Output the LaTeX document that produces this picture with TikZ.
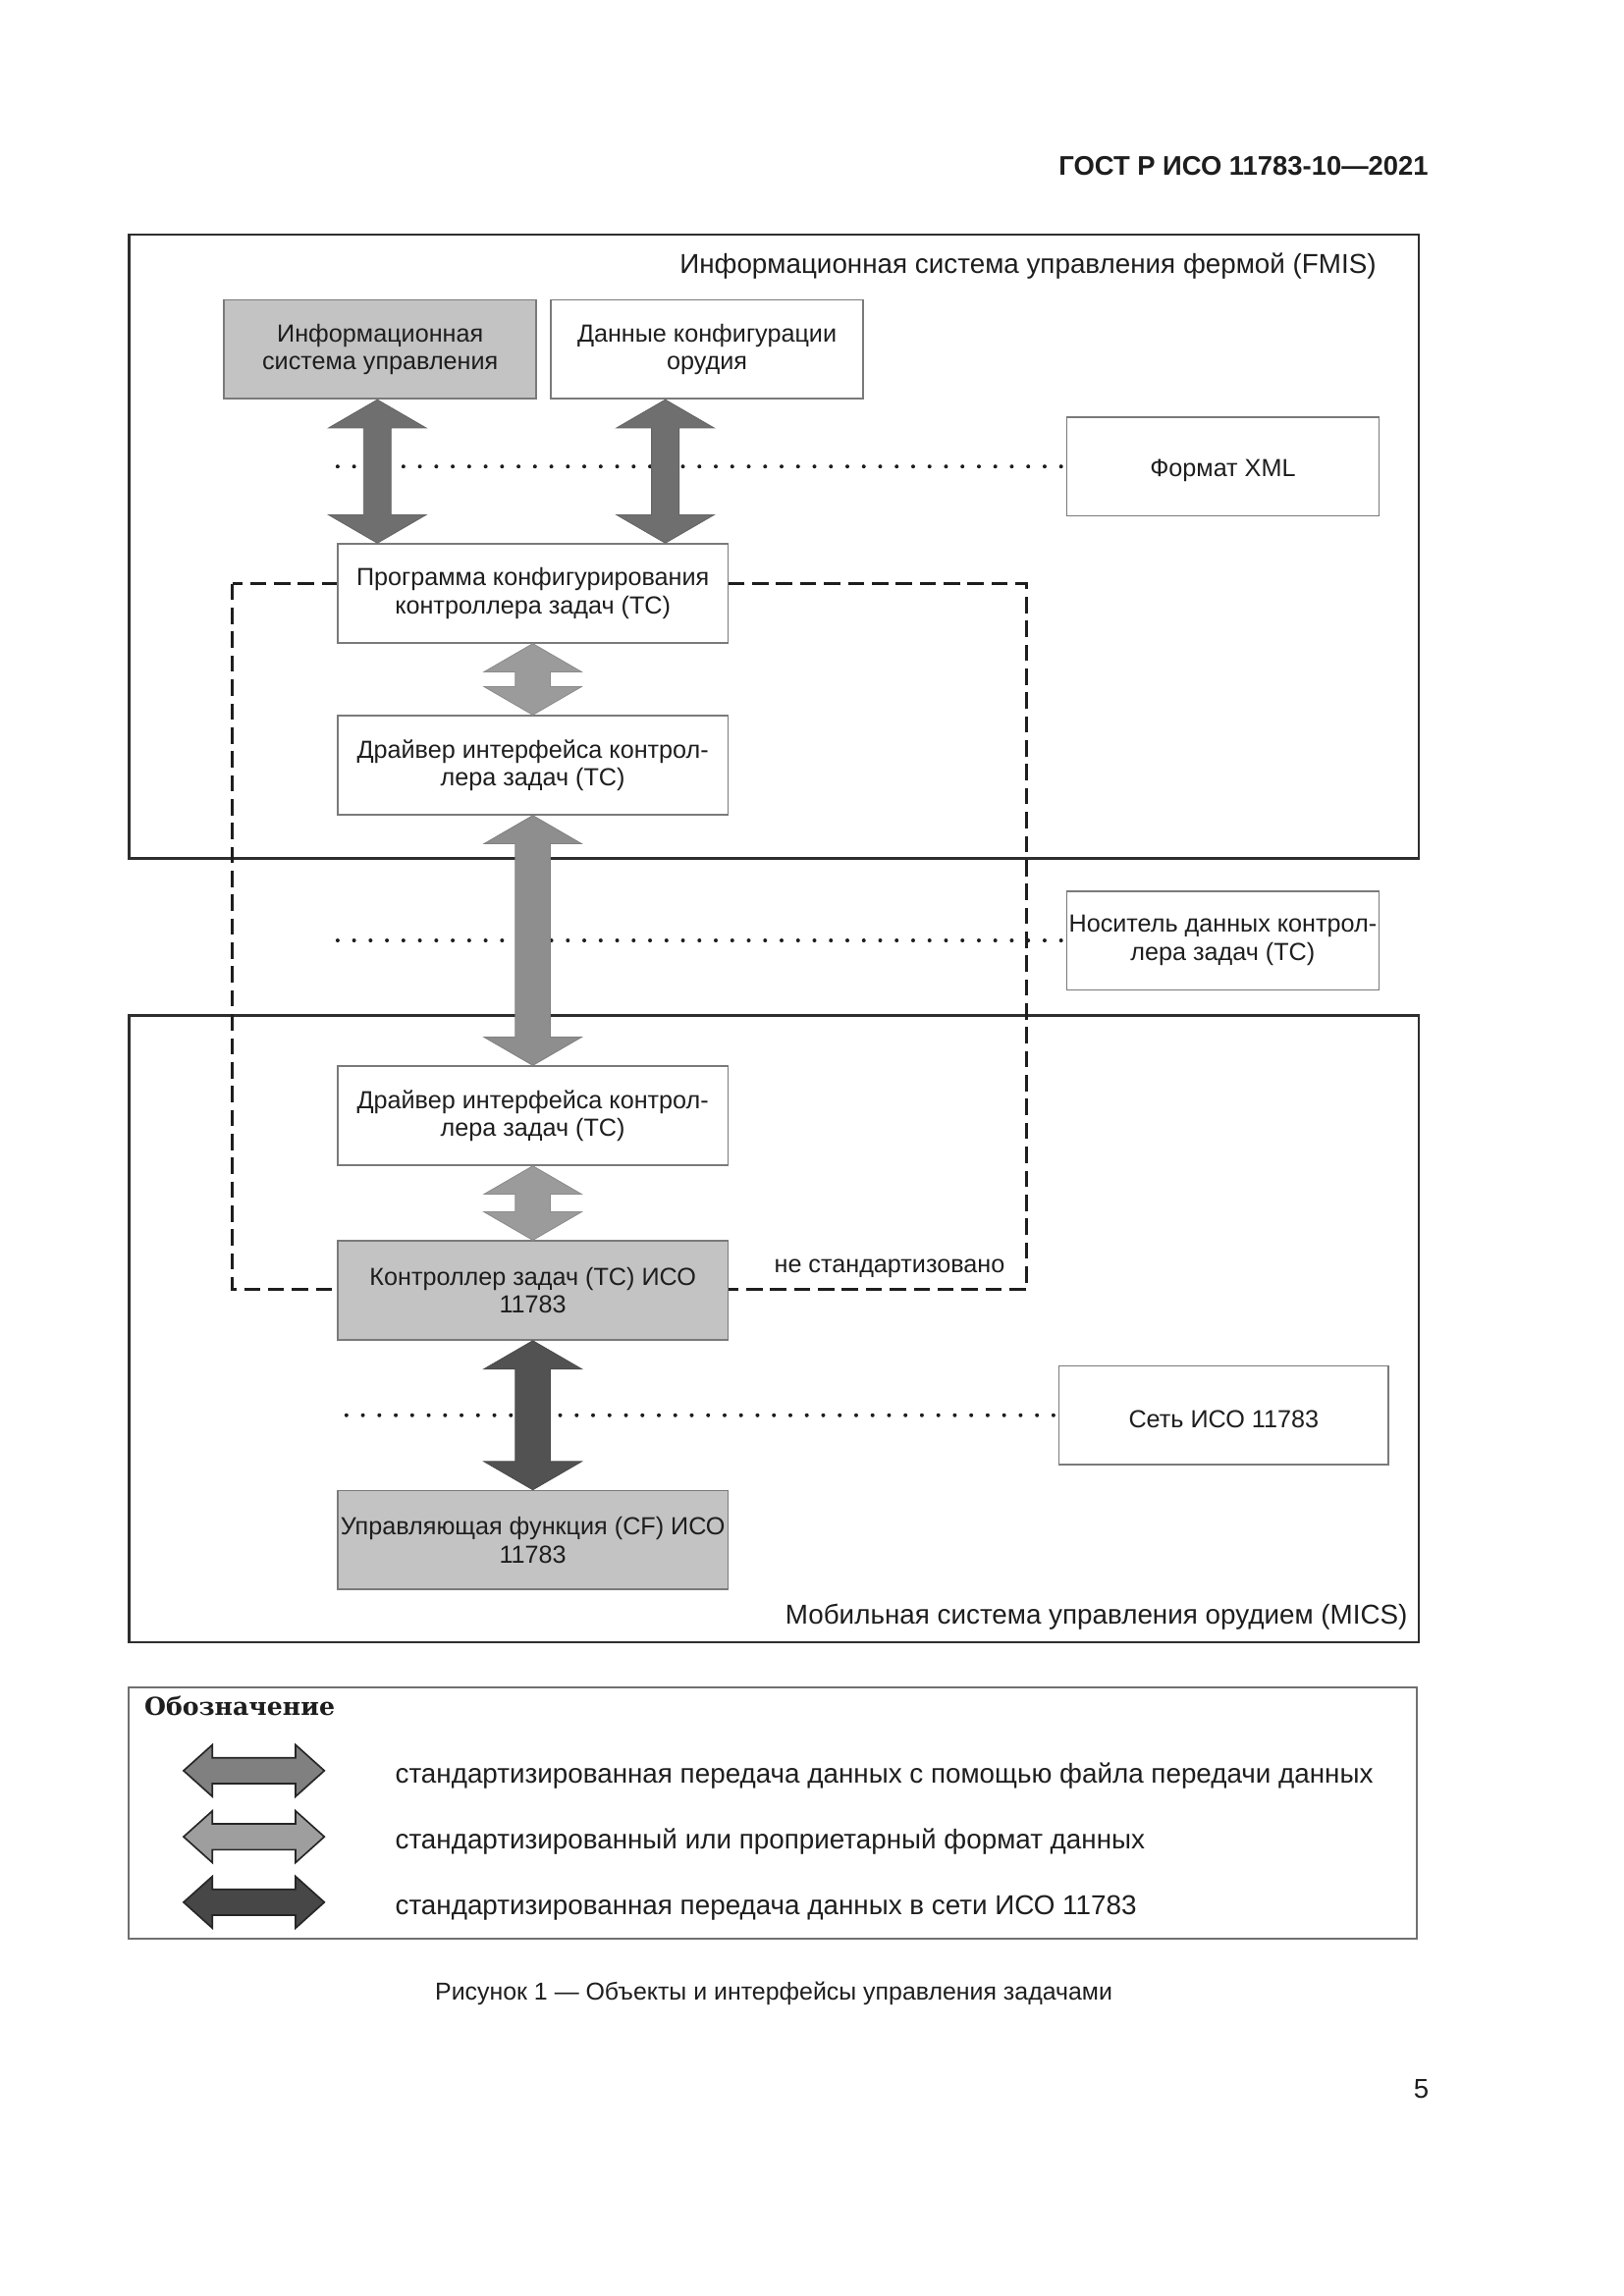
\documentclass[tikz,border=0pt]{standalone}
\usepackage{fontspec}
\setmainfont{Liberation Sans}
\newfontfamily\legserif{DejaVu Serif}
\usetikzlibrary{calc}
\definecolor{txt}{HTML}{1E1E1E}
\definecolor{boxline}{HTML}{7A7A7A}
\definecolor{boxgray}{HTML}{C3C3C3}
\definecolor{frameline}{HTML}{2E2E2E}
\definecolor{legline}{HTML}{707070}
\definecolor{arrbig}{HTML}{6F6F6F}
\definecolor{arrsmall}{HTML}{9B9B9B}
\definecolor{arrlong}{HTML}{8E8E8E}
\definecolor{arrdark}{HTML}{525252}
\newcommand\boxfont{\fontsize{9.1}{10.2}\selectfont}
\newcommand\bigtext{\fontsize{10.05}{12}\selectfont}
\pgfdeclarelayer{bg}
\pgfsetlayers{bg,main}
\tikzset{
  box/.style={draw=boxline, line width=0.6pt, fill=white, align=center,
    inner sep=0pt, font=\boxfont, text=txt, minimum height=1.279cm,
    execute at begin node={\rule{0pt}{9.2pt}}},
  graybox/.style={box, fill=boxgray},
  wA/.style={minimum width=4.038cm},
  wB/.style={minimum width=5.048cm},
  wC/.style={minimum width=4.266cm},
  frame/.style={draw=frameline, line width=0.9pt},
  legframe/.style={draw=legline, line width=0.7pt},
  dotline/.style={draw=txt, line width=1.45pt, line cap=round, dash pattern=on 0pt off 6.05pt},
  dashline/.style={draw=txt, line width=1pt, dash pattern=on 6pt off 2.8pt},
  label/.style={inner sep=0pt, text=txt},
  bigarrow/.style={fill=arrbig, draw=arrbig!90!black, line width=0.3pt},
  smallarrow/.style={fill=arrsmall, draw=arrsmall!90!black, line width=0.3pt},
  longarrow/.style={fill=arrlong, draw=arrlong!90!black, line width=0.3pt},
  darkarrow/.style={fill=arrdark, draw=arrdark!90!black, line width=0.3pt},
  legarrow/.style={draw=black!85, line width=0.6pt, line join=miter},
}
% vertical double arrow: x point, top anchor, bottom anchor, half shaft, style
\newcommand\vdarrow[5]{%
  \path[#5] let \p1=(#2), \p2=(#3), \p3=(#1) in
    (\x3,\y1) -- ({\x3+17.97pt},{\y1-10.42pt}) -- ({\x3+#4},{\y1-10.42pt})
    -- ({\x3+#4},{\y2+10.42pt}) -- ({\x3+17.97pt},{\y2+10.42pt}) -- (\x3,\y2)
    -- ({\x3-17.97pt},{\y2+10.42pt}) -- ({\x3-#4},{\y2+10.42pt})
    -- ({\x3-#4},{\y1-10.42pt}) -- ({\x3-17.97pt},{\y1-10.42pt}) -- cycle;}
% horizontal legend double arrow at a coordinate
\newcommand\hdarrow[2]{%
  \path[legarrow,#2] let \p1=(#1) in
    ({\x1-25.9pt},\y1) -- ({\x1-15.29pt},{\y1+9.53pt}) -- ({\x1-15.29pt},{\y1+4.76pt})
    -- ({\x1+15.29pt},{\y1+4.76pt}) -- ({\x1+15.29pt},{\y1+9.53pt}) -- ({\x1+25.9pt},\y1)
    -- ({\x1+15.29pt},{\y1-9.53pt}) -- ({\x1+15.29pt},{\y1-4.76pt})
    -- ({\x1-15.29pt},{\y1-4.76pt}) -- ({\x1-15.29pt},{\y1-9.53pt}) -- cycle;}
\begin{document}
\begin{tikzpicture}[x=0.01895cm,y=-0.01895cm]
\useasboundingbox (0,0) rectangle (21cm,-29.7cm);

% header, caption, page number
\node[label, anchor=base east, font=\fontsize{9.9}{12}\selectfont\bfseries] (hdr) at (975,119.5) {ГОСТ Р ИСО 11783-10—2021};
\node[label, anchor=base, font=\fontsize{9.0}{11}\selectfont] (cap) at (528,1365) {Рисунок 1 — Объекты и интерфейсы управления задачами};
\node[label, anchor=base east, font=\fontsize{10}{12}\selectfont] (pg) at (975.5,1432) {5};

% boxes
\node[graybox, wA] (ims) at (259.45,238.5) {Информационная\\система управления};
\node[box, wA] (cfg) at (482.45,238.5) {Данные конфигурации\\орудия};
\node[box, wA] (xml) at (834.45,318.4) {Формат XML};
\node[box, wB] (prog) at (363.6,405) {Программа конфигурирования\\контроллера задач (TC)};
\node[box, wB] (drv1) at (363.6,522.3) {Драйвер интерфейса контрол-\\лера задач (TC)};
\node[box, wA] (car) at (834.45,641.9) {Носитель данных контрол-\\лера задач (TC)};
\node[box, wB] (drv2) at (363.6,761.5) {Драйвер интерфейса контрол-\\лера задач (TC)};
\node[graybox, wB] (tc) at (363.6,880.8) {Контроллер задач (TC) ИСО\\11783};
\node[box, wC] (net) at (835.05,966) {Сеть ИСО 11783};
\node[graybox, wB] (cf) at (363.6,1051.2) {Управляющая функция (CF) ИСО\\11783};

% titles
\node[label, anchor=base east, font=\bigtext] (fmis) at (939.5,186.5) {Информационная система управления фермой (FMIS)};
\node[label, anchor=base east, font=\bigtext] (mics) at (960.8,1108.5) {Мобильная система управления орудием (MICS)};
\node[label, anchor=base west, font=\boxfont] (nstd) at (528,868.5) {не стандартизовано};

% arrows
\vdarrow{257.5,0}{ims.south}{prog.north}{5.06pt}{bigarrow}
\vdarrow{454,0}{cfg.south}{prog.north}{5.06pt}{bigarrow}
\vdarrow{prog.south}{prog.south}{drv1.north}{6.45pt}{smallarrow}
\vdarrow{drv1.south}{drv1.south}{drv2.north}{6.45pt}{longarrow}
\vdarrow{drv2.south}{drv2.south}{tc.north}{6.45pt}{smallarrow}
\vdarrow{tc.south}{tc.south}{cf.north}{6.45pt}{darkarrow}

% legend
\node[label, anchor=base west, font=\legserif\fontsize{9.1}{10}\selectfont\bfseries] (legt) at (98.2,1171) {Обозначение};
\coordinate (la1) at (173.3,1208.6);
\coordinate (la2) at (173.3,1253.7);
\coordinate (la3) at (173.3,1298.4);
\hdarrow{la1}{top color=black!50, middle color=black!38, bottom color=black!50}
\hdarrow{la2}{top color=black!38, middle color=black!27, bottom color=black!38}
\hdarrow{la3}{top color=black!72, middle color=black!62, bottom color=black!72}
\node[label, anchor=base west, font=\bigtext] (lt1) at (269.4,1217) {стандартизированная передача данных с помощью файла передачи данных};
\node[label, anchor=base west, font=\bigtext] (lt2) at (269.4,1262.1) {стандартизированный или проприетарный формат данных};
\node[label, anchor=base west, font=\bigtext] (lt3) at (269.4,1306.8) {стандартизированная передача данных в сети ИСО 11783};

\begin{pgfonlayer}{bg}
  \fill[white] (0,0) rectangle (21cm,-29.7cm);
  \draw[frame] (88,160) rectangle (968,586);
  \draw[frame] (88,693) rectangle (968,1121);
  \draw[legframe] (88,1152) rectangle (967,1323);
  \draw[dashline] (158.6,398.5) rectangle (700.3,880.2);
  \coordinate (d1) at (230.4,318.4);
  \coordinate (d2) at (230.4,641.9);
  \coordinate (d3) at (236.4,966);
  \draw[dotline] (d1) -- (xml.west);
  \draw[dotline] (d2) -- (car.west);
  \draw[dotline] (d3) -- (net.west);
\end{pgfonlayer}
\end{tikzpicture}
\end{document}
